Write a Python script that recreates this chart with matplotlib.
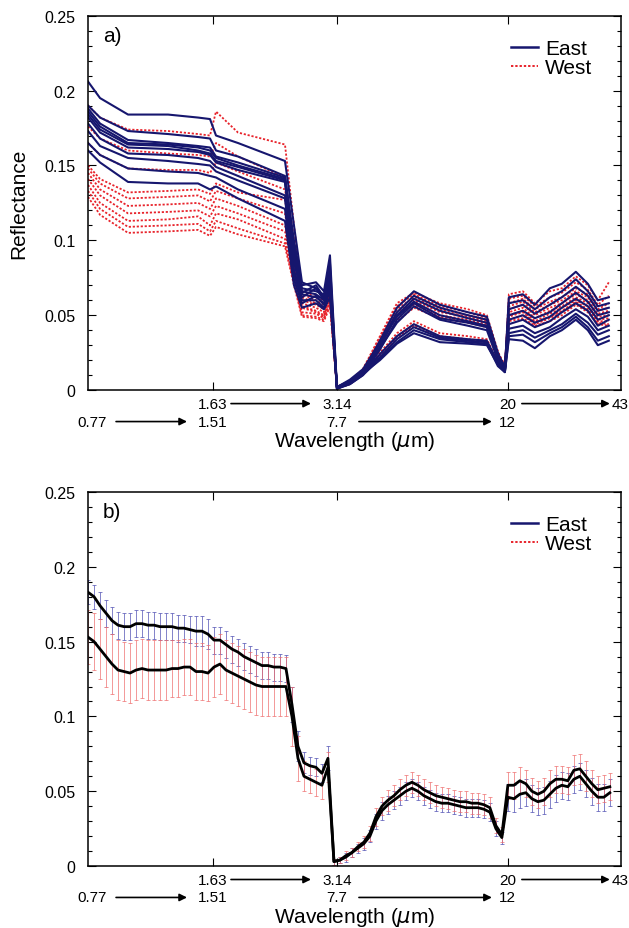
import numpy as np
import matplotlib
matplotlib.use("Agg")
import matplotlib.pyplot as plt
import matplotlib.transforms as mtransforms
from matplotlib.ticker import MultipleLocator, FuncFormatter
from matplotlib.lines import Line2D

plt.rcParams['font.family'] = ['Liberation Sans', 'DejaVu Sans']

# positions along the joined spectrum (VNIR | SWIR | TIR | far IR)
x_vnir = [0, 12, 40, 80, 110, 122]
x_swir = [128, 150, 197, 206, 214, 228, 236, 242]
x_tir = [249, 262, 275, 292, 309, 326, 352, 380, 399, 410, 417]
x_fir = [421, 435, 447, 462, 474, 488, 500, 510, 521]

# ---- panel a: single spectra ----
east_vnir = [
    [0.206, 0.195, 0.184, 0.184, 0.182, 0.181],
    [0.190, 0.182, 0.173, 0.171, 0.169, 0.168],
    [0.188, 0.178, 0.167, 0.165, 0.163, 0.162],
    [0.186, 0.176, 0.165, 0.164, 0.162, 0.160],
    [0.184, 0.174, 0.164, 0.163, 0.160, 0.158],
    [0.182, 0.172, 0.162, 0.161, 0.159, 0.157],
    [0.178, 0.168, 0.158, 0.157, 0.155, 0.153],
    [0.173, 0.163, 0.155, 0.153, 0.151, 0.150],
    [0.165, 0.157, 0.148, 0.146, 0.145, 0.143],
    [0.160, 0.152, 0.139, 0.138, 0.138, 0.134],
]
east_swir = [
    [0.170, 0.165, 0.153, 0.110, 0.072, 0.068, 0.062, 0.085],
    [0.160, 0.156, 0.143, 0.100, 0.070, 0.072, 0.066, 0.090],
    [0.156, 0.152, 0.142, 0.095, 0.068, 0.066, 0.064, 0.080],
    [0.155, 0.150, 0.141, 0.090, 0.066, 0.064, 0.060, 0.074],
    [0.153, 0.149, 0.140, 0.088, 0.065, 0.070, 0.062, 0.078],
    [0.152, 0.147, 0.139, 0.085, 0.064, 0.062, 0.058, 0.070],
    [0.149, 0.143, 0.130, 0.080, 0.062, 0.068, 0.060, 0.072],
    [0.146, 0.140, 0.128, 0.078, 0.060, 0.060, 0.055, 0.066],
    [0.142, 0.134, 0.121, 0.074, 0.058, 0.063, 0.057, 0.068],
    [0.136, 0.128, 0.113, 0.070, 0.055, 0.058, 0.054, 0.062],
]
east_tir = [
    [0.001, 0.005, 0.012, 0.033, 0.055, 0.066, 0.057, 0.052, 0.049, 0.025, 0.014],
    [0.002, 0.006, 0.013, 0.031, 0.052, 0.063, 0.055, 0.050, 0.047, 0.022, 0.013],
    [0.001, 0.005, 0.011, 0.029, 0.050, 0.061, 0.053, 0.048, 0.045, 0.024, 0.016],
    [0.002, 0.007, 0.014, 0.032, 0.049, 0.059, 0.050, 0.046, 0.043, 0.021, 0.012],
    [0.001, 0.004, 0.010, 0.027, 0.047, 0.058, 0.048, 0.045, 0.042, 0.023, 0.015],
    [0.002, 0.006, 0.012, 0.028, 0.045, 0.056, 0.047, 0.043, 0.040, 0.020, 0.013],
    [0.001, 0.005, 0.011, 0.024, 0.036, 0.044, 0.036, 0.034, 0.033, 0.018, 0.013],
    [0.002, 0.006, 0.012, 0.022, 0.034, 0.042, 0.035, 0.033, 0.032, 0.019, 0.015],
    [0.001, 0.004, 0.010, 0.021, 0.032, 0.040, 0.034, 0.032, 0.031, 0.016, 0.012],
    [0.002, 0.005, 0.011, 0.020, 0.031, 0.038, 0.032, 0.031, 0.030, 0.017, 0.012],
]
east_fir = [
    [0.062, 0.064, 0.057, 0.068, 0.071, 0.079, 0.071, 0.060, 0.062],
    [0.058, 0.060, 0.054, 0.062, 0.066, 0.074, 0.066, 0.056, 0.058],
    [0.054, 0.057, 0.051, 0.057, 0.062, 0.069, 0.063, 0.053, 0.055],
    [0.050, 0.053, 0.048, 0.052, 0.058, 0.065, 0.059, 0.050, 0.052],
    [0.047, 0.050, 0.045, 0.049, 0.055, 0.061, 0.056, 0.047, 0.050],
    [0.044, 0.047, 0.042, 0.046, 0.052, 0.058, 0.053, 0.043, 0.047],
    [0.041, 0.043, 0.038, 0.042, 0.048, 0.054, 0.049, 0.040, 0.043],
    [0.038, 0.040, 0.035, 0.040, 0.044, 0.051, 0.045, 0.037, 0.040],
    [0.036, 0.037, 0.032, 0.038, 0.042, 0.049, 0.042, 0.033, 0.036],
    [0.034, 0.033, 0.028, 0.036, 0.040, 0.047, 0.040, 0.030, 0.033],
]

west_vnir = [
    [0.190, 0.182, 0.174, 0.173, 0.171, 0.170],
    [0.176, 0.168, 0.160, 0.158, 0.157, 0.156],
    [0.165, 0.157, 0.148, 0.147, 0.147, 0.145],
    [0.150, 0.141, 0.132, 0.133, 0.134, 0.131],
    [0.148, 0.138, 0.128, 0.129, 0.130, 0.126],
    [0.145, 0.134, 0.123, 0.124, 0.125, 0.121],
    [0.141, 0.130, 0.118, 0.119, 0.120, 0.116],
    [0.137, 0.125, 0.113, 0.114, 0.116, 0.110],
    [0.133, 0.121, 0.109, 0.110, 0.111, 0.106],
    [0.129, 0.117, 0.105, 0.106, 0.107, 0.103],
]
west_swir = [
    [0.186, 0.172, 0.164, 0.110, 0.066, 0.062, 0.060, 0.080],
    [0.165, 0.156, 0.142, 0.100, 0.064, 0.060, 0.057, 0.075],
    [0.152, 0.146, 0.134, 0.095, 0.062, 0.058, 0.055, 0.072],
    [0.138, 0.132, 0.127, 0.090, 0.060, 0.057, 0.054, 0.070],
    [0.133, 0.128, 0.118, 0.085, 0.058, 0.055, 0.052, 0.066],
    [0.128, 0.123, 0.110, 0.080, 0.056, 0.053, 0.050, 0.064],
    [0.123, 0.118, 0.106, 0.078, 0.055, 0.052, 0.049, 0.062],
    [0.118, 0.114, 0.101, 0.075, 0.052, 0.051, 0.048, 0.060],
    [0.113, 0.108, 0.098, 0.072, 0.050, 0.049, 0.047, 0.058],
    [0.109, 0.104, 0.096, 0.070, 0.049, 0.048, 0.046, 0.056],
]
west_tir = [
    [0.002, 0.006, 0.014, 0.036, 0.058, 0.065, 0.058, 0.054, 0.050, 0.026, 0.015],
    [0.001, 0.005, 0.013, 0.035, 0.056, 0.064, 0.056, 0.052, 0.048, 0.024, 0.014],
    [0.002, 0.006, 0.014, 0.034, 0.054, 0.062, 0.054, 0.050, 0.047, 0.025, 0.017],
    [0.001, 0.005, 0.013, 0.033, 0.052, 0.060, 0.052, 0.049, 0.046, 0.023, 0.013],
    [0.002, 0.006, 0.012, 0.032, 0.050, 0.058, 0.050, 0.047, 0.044, 0.022, 0.014],
    [0.001, 0.005, 0.013, 0.031, 0.049, 0.057, 0.049, 0.046, 0.043, 0.021, 0.016],
    [0.002, 0.006, 0.012, 0.029, 0.046, 0.055, 0.048, 0.045, 0.042, 0.022, 0.013],
    [0.001, 0.004, 0.011, 0.025, 0.038, 0.046, 0.038, 0.036, 0.034, 0.019, 0.014],
    [0.002, 0.005, 0.012, 0.024, 0.036, 0.044, 0.036, 0.034, 0.033, 0.018, 0.012],
    [0.001, 0.005, 0.011, 0.023, 0.035, 0.043, 0.035, 0.033, 0.032, 0.017, 0.013],
]
west_fir = [
    [0.064, 0.066, 0.058, 0.066, 0.068, 0.076, 0.070, 0.060, 0.072],
    [0.061, 0.063, 0.056, 0.062, 0.065, 0.072, 0.067, 0.057, 0.063],
    [0.058, 0.061, 0.054, 0.059, 0.062, 0.068, 0.064, 0.054, 0.058],
    [0.056, 0.059, 0.052, 0.057, 0.060, 0.066, 0.062, 0.053, 0.055],
    [0.054, 0.057, 0.050, 0.055, 0.058, 0.064, 0.060, 0.051, 0.053],
    [0.052, 0.055, 0.048, 0.053, 0.056, 0.062, 0.058, 0.049, 0.050],
    [0.050, 0.053, 0.046, 0.051, 0.055, 0.060, 0.056, 0.047, 0.048],
    [0.049, 0.052, 0.045, 0.049, 0.053, 0.059, 0.054, 0.046, 0.046],
    [0.047, 0.050, 0.044, 0.048, 0.052, 0.058, 0.053, 0.045, 0.044],
    [0.046, 0.048, 0.043, 0.046, 0.050, 0.057, 0.052, 0.044, 0.043],
]

# ---- panel b: mean +- std, one value every 6 positions ----
x_mean = list(range(0, 523, 6))
east_mean = [
    0.183, 0.180, 0.174, 0.169, 0.164, 0.161, 0.160, 0.160, 0.162, 0.162,
    0.161, 0.161, 0.160, 0.160, 0.160, 0.159, 0.159, 0.158, 0.157, 0.157,
    0.155, 0.151, 0.151, 0.148, 0.145, 0.143, 0.140, 0.138, 0.136, 0.134,
    0.134, 0.133, 0.133, 0.132, 0.108, 0.080, 0.069, 0.067, 0.066, 0.062,
    0.072, 0.003, 0.004, 0.006, 0.009, 0.012, 0.015, 0.020, 0.030, 0.037,
    0.041, 0.044, 0.047, 0.050, 0.052, 0.050, 0.047, 0.045, 0.043, 0.042,
    0.042, 0.041, 0.040, 0.039, 0.039, 0.039, 0.038, 0.036, 0.025, 0.019,
    0.046, 0.045, 0.048, 0.049, 0.045, 0.043, 0.044, 0.048, 0.052, 0.054,
    0.053, 0.058, 0.060, 0.055, 0.050, 0.046, 0.046, 0.049,
]
east_std = [
    0.008, 0.008, 0.009, 0.009, 0.009, 0.009, 0.009, 0.009, 0.009, 0.009,
    0.009, 0.009, 0.009, 0.009, 0.009, 0.009, 0.009, 0.009, 0.010, 0.010,
    0.010, 0.009, 0.009, 0.009, 0.009, 0.009, 0.009, 0.009, 0.009, 0.009,
    0.009, 0.009, 0.009, 0.009, 0.012, 0.010, 0.007, 0.006, 0.006, 0.006,
    0.008, 0.002, 0.002, 0.003, 0.003, 0.003, 0.004, 0.004, 0.005, 0.006,
    0.006, 0.006, 0.006, 0.006, 0.006, 0.006, 0.006, 0.006, 0.006, 0.006,
    0.006, 0.006, 0.006, 0.006, 0.006, 0.006, 0.006, 0.006, 0.005, 0.004,
    0.009, 0.009, 0.009, 0.009, 0.009, 0.009, 0.009, 0.009, 0.009, 0.009,
    0.009, 0.009, 0.009, 0.009, 0.009, 0.009, 0.009, 0.009,
]
west_mean = [
    0.153, 0.150, 0.145, 0.140, 0.135, 0.131, 0.130, 0.129, 0.131, 0.132,
    0.131, 0.131, 0.131, 0.131, 0.132, 0.132, 0.133, 0.133, 0.130, 0.130,
    0.129, 0.133, 0.135, 0.131, 0.129, 0.127, 0.125, 0.123, 0.121, 0.120,
    0.120, 0.120, 0.120, 0.120, 0.100, 0.072, 0.060, 0.058, 0.056, 0.054,
    0.066, 0.003, 0.004, 0.007, 0.009, 0.013, 0.016, 0.022, 0.033, 0.040,
    0.044, 0.047, 0.051, 0.054, 0.056, 0.054, 0.051, 0.049, 0.047, 0.046,
    0.045, 0.044, 0.043, 0.043, 0.042, 0.042, 0.041, 0.039, 0.027, 0.021,
    0.054, 0.054, 0.057, 0.055, 0.050, 0.048, 0.050, 0.055, 0.058, 0.058,
    0.057, 0.064, 0.065, 0.060, 0.055, 0.051, 0.052, 0.053,
]
west_std = [
    0.018, 0.019, 0.020, 0.020, 0.020, 0.020, 0.020, 0.020, 0.020, 0.020,
    0.020, 0.020, 0.020, 0.020, 0.019, 0.019, 0.019, 0.019, 0.019, 0.019,
    0.019, 0.020, 0.020, 0.020, 0.020, 0.020, 0.020, 0.020, 0.020, 0.020,
    0.020, 0.020, 0.020, 0.020, 0.020, 0.015, 0.010, 0.009, 0.009, 0.009,
    0.010, 0.002, 0.002, 0.003, 0.003, 0.003, 0.004, 0.005, 0.006, 0.006,
    0.007, 0.007, 0.007, 0.007, 0.007, 0.007, 0.007, 0.007, 0.007, 0.007,
    0.007, 0.007, 0.007, 0.007, 0.007, 0.007, 0.007, 0.007, 0.005, 0.005,
    0.009, 0.009, 0.009, 0.009, 0.009, 0.009, 0.009, 0.009, 0.009, 0.009,
    0.009, 0.010, 0.010, 0.010, 0.009, 0.009, 0.009, 0.009,
]

# wavelength labels at the band joins
top_labels = ["1.63", "3.14", "20", "43"]
top_pos = [125, 249, 420, 532]
bot_labels = ["0.77", "1.51", "7.7", "12"]
bot_pos = [4, 125, 249, 420]

navy = "#16166e"
red = "#e8232b"


def join(*parts):
    return [v for p in parts for v in p]


x_all = join(x_vnir, x_swir, x_tir, x_fir)


def style_axes(ax, tag):
    ax.set_xlim(0, 533)
    ax.set_ylim(0, 0.25)
    ax.yaxis.set_major_locator(MultipleLocator(0.05))
    ax.yaxis.set_minor_locator(MultipleLocator(0.01))
    ax.yaxis.set_major_formatter(FuncFormatter(lambda v, p: "%g" % round(v, 3)))
    ax.set_xticks([125, 249, 420])
    ax.set_xticklabels([])
    ax.tick_params(which="both", direction="in", top=True, right=True, width=0.8)
    ax.tick_params(which="major", length=6, labelsize=11.5, pad=9)
    ax.tick_params(which="minor", length=3)
    for s in ax.spines.values():
        s.set_linewidth(1.1)
    ax.text(0.045, 0.948, tag, transform=ax.transAxes, fontsize=15,
            ha="center", va="center")

    tr = mtransforms.blended_transform_factory(ax.transData, ax.transAxes)
    for lab, xp in zip(top_labels, top_pos):
        ax.text(xp, -0.036, lab, transform=tr, ha="center", va="center", fontsize=11)
    for lab, xp in zip(bot_labels, bot_pos):
        ax.text(xp, -0.084, lab, transform=tr, ha="center", va="center", fontsize=11)
    arrows = [(143, 223, -0.036), (434, 522, -0.036), (28, 99, -0.084), (271, 404, -0.084)]
    for x0, x1, yy in arrows:
        ax.annotate("", xy=(x1, yy), xytext=(x0, yy), xycoords=tr, textcoords=tr,
                    annotation_clip=False,
                    arrowprops=dict(arrowstyle="-|>", color="black", lw=1.2,
                                    mutation_scale=11, shrinkA=0, shrinkB=0))
    ax.text(0.5, -0.134, r"Wavelength ($\mu$m)", transform=ax.transAxes,
            ha="center", va="center", fontsize=15)

    handles = [Line2D([], [], color=navy, lw=1.8),
               Line2D([], [], color=red, lw=1.4, ls=(0, (1.2, 1.0)))]
    ax.legend(handles, ["East", "West"], loc="upper right",
              bbox_to_anchor=(0.946, 0.938), frameon=False, fontsize=15,
              handlelength=1.25, handletextpad=0.35, labelspacing=0.0,
              borderaxespad=0, borderpad=0)


fig = plt.figure(figsize=(6.29, 9.29), dpi=100)
ax1 = fig.add_axes([0.140, 0.579, 0.847, 0.403])
ax2 = fig.add_axes([0.140, 0.0667, 0.847, 0.4026])

# a) individual spectra
for i in range(len(west_vnir)):
    y = join(west_vnir[i], west_swir[i], west_tir[i], west_fir[i])
    ax1.plot(x_all, y, color=red, lw=1.3, ls=(0, (1.2, 1.0)))
for i in range(len(east_vnir)):
    y = join(east_vnir[i], east_swir[i], east_tir[i], east_fir[i])
    ax1.plot(x_all, y, color=navy, lw=1.5)
style_axes(ax1, "a)")
ax1.set_ylabel("Reflectance", fontsize=15, labelpad=12)

# b) mean and standard deviation
ax2.errorbar(x_mean, east_mean, yerr=east_std, fmt="none", ecolor="#4a4ab0",
             elinewidth=0.6, capsize=1.5, capthick=0.6, alpha=0.8)
ax2.errorbar(x_mean, west_mean, yerr=west_std, fmt="none", ecolor="#ee6a6a",
             elinewidth=0.6, capsize=1.5, capthick=0.6, alpha=0.8)
ax2.plot(x_mean, east_mean, color="black", lw=2)
ax2.plot(x_mean, west_mean, color="black", lw=2)
style_axes(ax2, "b)")

fig.savefig("out.png", dpi=100)
